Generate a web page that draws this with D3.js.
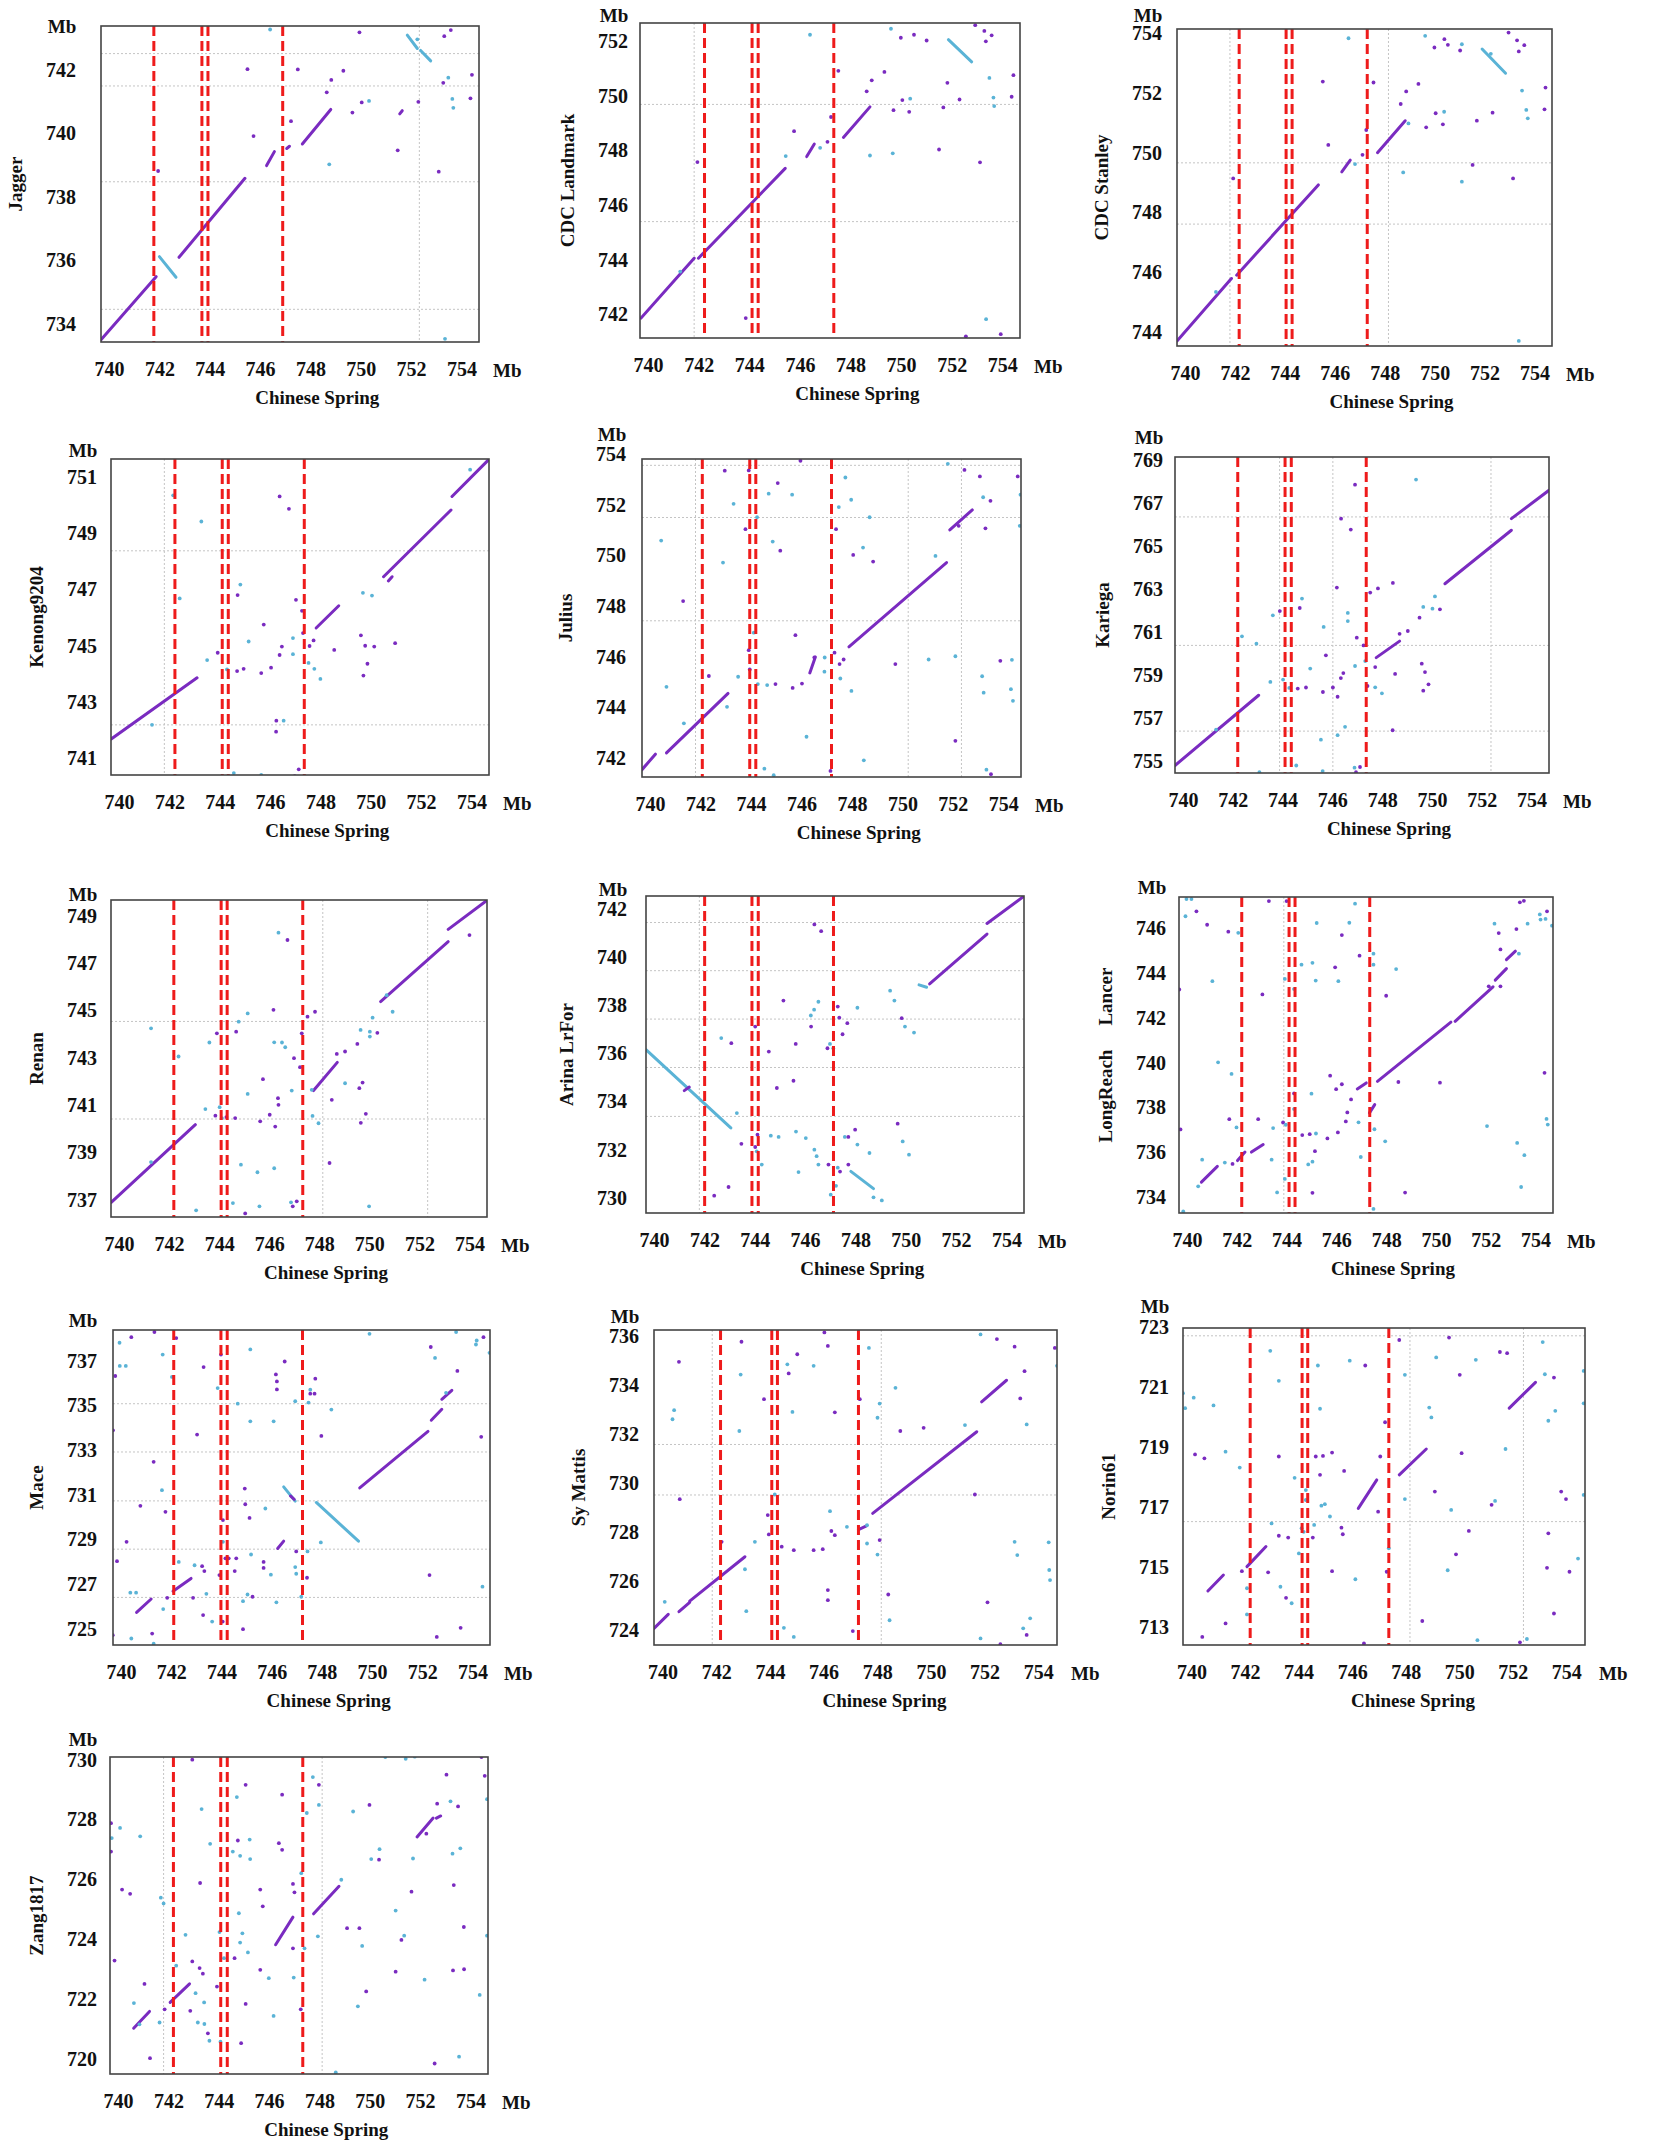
<!DOCTYPE html>
<html>
<head>
<meta charset="utf-8">
<script src="https://cdn.jsdelivr.net/npm/d3@7"></script>
<style>
  body { margin: 0; background: #fff; }
  svg text { font-family: "Liberation Serif", "Times New Roman", serif; font-weight: bold; fill: #111; }
</style>
</head>
<body>
<div id="chart"></div>
<script>
// ---------------------
// DATA

var xDomain = [739.68, 754.70];
var xTicks = [740, 742, 744, 746, 748, 750, 752, 754];

var panelNames = ["Jagger", "CDC Landmark", "CDC Stanley", "Kenong9204", "Julius", "Kariega",
  "Renan", "Arina LrFor", "LongReach|Lancer", "Mace", "Sy Mattis", "Norin61", "Zang1817"];

var yDomains = [
  [733.43, 743.39], [741.14, 752.67], [743.53, 754.14], [740.41, 751.63], [741.25, 753.81],
  [754.43, 769.14], [736.27, 749.66], [729.37, 742.53], [733.29, 747.40], [724.28, 738.38],
  [723.39, 736.24], [712.42, 722.98], [719.50, 730.09]
];

var yTicks = [
  [734, 736, 738, 740, 742],
  [742, 744, 746, 748, 750, 752],
  [744, 746, 748, 750, 752, 754],
  [741, 743, 745, 747, 749, 751],
  [742, 744, 746, 748, 750, 752, 754],
  [755, 757, 759, 761, 763, 765, 767, 769],
  [737, 739, 741, 743, 745, 747, 749],
  [730, 732, 734, 736, 738, 740, 742],
  [734, 736, 738, 740, 742, 744, 746],
  [725, 727, 729, 731, 733, 735, 737],
  [724, 726, 728, 730, 732, 734, 736],
  [713, 715, 717, 719, 721, 723],
  [720, 722, 724, 726, 728, 730]
];

// red dashed boundaries (Chinese Spring Mb)
var cutLines = [
  [741.78, 743.69, 743.93, 746.90], [742.23, 744.11, 744.35, 747.34], [742.17, 744.05, 744.29, 747.30],
  [742.22, 744.10, 744.34, 747.36], [742.07, 743.95, 744.19, 747.19], [742.20, 744.10, 744.35, 747.36],
  [742.19, 744.08, 744.32, 747.34], [742.01, 743.89, 744.14, 747.13], [742.20, 744.10, 744.34, 747.34],
  [742.10, 743.98, 744.23, 747.23], [742.16, 744.07, 744.28, 747.30], [742.19, 744.13, 744.34, 747.37],
  [742.20, 744.08, 744.34, 747.34]
];

// grey scaffold boundaries
var gridX = [
  [752.33], [741.82], [748.15, 741.80], [741.80], [741.80, 750.23, 752.34], [743.88, 746.02, 752.37],
  [748.14, 752.33], [741.80], [743.89], [], [748.15, 741.85], [748.16, 752.40], [741.81, 748.11]
];
var gridY = [
  [741.50, 738.48, 734.46, 742.52], [749.69, 745.40], [749.66, 747.61], [748.37, 742.19],
  [753.56, 751.50, 747.42], [766.35, 760.37, 756.38], [744.53, 740.41],
  [741.43, 739.43, 737.42, 735.41, 733.38], [], [735.08, 732.92, 730.73, 728.57, 726.41],
  [731.57, 729.51], [722.72, 716.53], []
];

// collinear blocks: [cs1, y1, cs2, y2, strand]  strand 0 = forward, 1 = reverse
var segJagger = [[739.68,733.50,741.87,735.49,0],[742.00,736.12,742.66,735.47,1],[742.78,736.10,745.40,738.59,0],
  [746.26,738.99,746.57,739.43,0],[747.06,739.53,747.17,739.60,0],[747.68,739.67,748.81,740.76,0],
  [751.85,743.10,752.25,742.68,1],[752.38,742.62,752.78,742.29,1],[751.55,740.62,751.65,740.72,0]];
var dotJagger = [[745.50,742.03,0],[747.50,742.02,0],[749.31,741.98,0],[749.95,743.19,0],[746.40,743.28,1],
  [748.83,741.69,0],[748.65,741.30,0],[749.67,740.66,0],[750.04,740.98,0],[750.33,741.03,1],[747.23,740.39,0],
  [745.74,739.92,0],[748.75,739.03,1],[751.47,739.47,0],[752.29,741.00,0],[753.10,738.80,0],[753.28,741.60,0],
  [753.48,741.76,1],[753.64,741.09,1],[753.68,740.81,1],[754.36,741.11,0],[754.42,741.85,0],[753.32,743.07,0],
  [753.58,743.26,0],[753.35,733.53,1],[741.95,738.82,0],[752.25,742.97,1]];

var segLandmark = [[739.72,741.87,741.82,744.06,0],[741.99,744.06,745.42,747.35,0],[746.27,747.78,746.57,748.24,0],
  [747.72,748.48,748.77,749.60,0],[751.87,752.06,752.79,751.25,1]];
var dotLandmark = [[741.95,747.58,0],[743.86,741.87,0],[745.44,747.80,1],[745.77,748.71,0],[746.40,752.24,1],
  [746.80,748.10,1],[747.09,748.32,0],[747.23,749.23,0],[747.52,750.92,0],[749.34,750.88,0],[749.60,752.46,1],
  [749.99,752.13,0],[750.51,752.24,0],[751.01,752.03,0],[748.84,750.57,0],[748.64,750.17,0],[750.05,749.85,0],
  [750.36,749.90,1],[749.70,749.48,0],[750.32,749.42,0],[749.67,747.90,1],[748.77,747.82,1],[751.50,748.04,0],
  [751.83,750.48,0],[751.67,749.58,0],[752.31,749.87,0],[753.12,747.57,0],[752.93,752.59,0],[753.29,752.38,0],
  [753.35,752.00,0],[753.58,752.22,0],[753.49,750.66,1],[753.65,749.94,1],[753.68,749.63,1],[754.37,749.97,0],
  [754.44,750.76,0],[753.36,741.83,1],[752.56,741.20,0],[753.94,741.28,0],[741.27,743.57,1]];

var segStanley = [[739.68,743.70,741.86,745.79,0],[742.07,745.90,745.34,748.92,0],[746.28,749.36,746.62,749.75,0],
  [747.71,750.00,748.82,751.07,0],[751.90,753.47,752.84,752.66,1]];
var dotStanley = [[741.93,749.14,0],[745.52,752.38,0],[745.74,750.26,0],[746.55,753.83,1],[746.81,749.62,1],
  [747.26,750.76,0],[747.55,752.35,0],[748.64,751.63,0],[748.86,752.05,0],[749.35,752.30,0],[749.62,753.91,1],
  [749.99,753.52,0],[750.39,753.80,0],[750.53,753.61,0],[751.02,753.42,0],[751.09,753.63,1],[750.04,751.32,0],
  [750.38,751.37,1],[750.33,750.95,0],[749.66,750.85,0],[748.95,750.98,1],[748.74,749.34,1],[751.09,749.03,1],
  [751.52,749.59,0],[751.69,751.07,0],[752.32,751.34,0],[752.25,753.31,1],[752.96,754.02,0],[753.30,753.76,0],
  [753.37,753.39,0],[753.59,753.60,0],[753.50,752.08,1],[753.67,751.43,1],[753.73,751.15,1],[754.44,752.18,0],
  [754.40,751.45,0],[753.14,749.14,0],[753.37,743.70,1],[741.24,745.34,1],[747.11,749.93,0]];

var segKenong = [[739.69,741.69,743.10,743.86,0],[747.83,745.63,748.73,746.42,0],[750.51,747.45,753.19,749.82,0],
  [753.23,750.30,754.71,751.63,0],[750.70,747.30,750.85,747.45,0]];
var dotKenong = [[742.15,750.34,1],[742.41,746.68,1],[743.27,749.41,1],[743.50,744.49,1],[743.92,744.75,0],
  [744.29,744.16,1],[744.69,744.10,0],[744.95,744.18,0],[744.71,746.80,0],[744.82,747.17,1],[745.15,745.15,1],
  [745.75,745.75,0],[745.65,744.03,0],[746.04,744.22,0],[746.38,750.30,0],[746.47,744.97,0],[746.38,744.67,0],
  [746.75,749.86,0],[746.91,745.27,1],[746.91,744.70,1],[747.03,746.63,0],[747.27,746.24,0],[747.31,745.45,0],
  [747.53,744.39,1],[747.57,744.99,0],[747.73,745.19,0],[747.76,744.18,1],[748.00,743.82,1],[748.55,744.85,0],
  [746.25,742.34,0],[746.24,741.95,0],[746.54,742.34,1],[744.56,740.48,1],[745.65,740.41,1],[747.14,740.61,0],
  [746.98,740.37,0],[749.69,746.88,1],[750.05,746.78,1],[749.61,745.37,0],[749.78,745.00,0],[750.14,744.97,0],
  [749.87,744.36,0],[749.71,743.94,0],[750.97,745.09,0],[753.95,751.25,1],[741.31,742.19,1]];

var segJulius = [[739.68,741.54,740.21,742.15,0],[740.65,742.20,743.09,744.55,0],[747.88,746.39,751.75,749.72,0],
  [751.88,751.01,752.77,751.80,0],[746.33,745.36,746.55,745.99,0]];
var dotJulius = [[740.44,750.59,1],[740.65,744.81,1],[741.31,748.20,0],[742.89,749.72,1],[742.96,753.35,0],
  [743.31,752.04,1],[743.05,744.02,1],[742.33,745.24,0],[743.49,745.21,1],[743.78,751.04,0],[743.91,746.26,0],
  [743.95,745.50,0],[744.11,746.95,1],[744.24,751.51,1],[743.91,753.36,0],[744.27,744.92,1],[744.64,744.88,1],
  [744.97,744.92,0],[744.70,752.44,1],[744.86,750.55,1],[745.06,752.86,0],[745.16,750.19,0],[745.63,752.40,1],
  [745.65,744.77,0],[745.76,746.85,0],[746.02,744.94,0],[746.20,742.84,1],[745.96,753.74,0],[746.51,745.97,0],
  [746.92,745.97,1],[746.91,745.41,1],[747.31,746.16,0],[747.37,751.04,0],[747.51,745.71,0],[747.54,745.14,1],
  [747.67,745.89,0],[747.48,751.91,1],[747.74,753.08,1],[747.97,752.20,1],[748.05,750.02,0],[747.98,744.65,1],
  [748.44,750.31,1],[748.47,741.91,1],[748.70,751.51,1],[748.84,749.76,0],[749.72,745.71,0],[751.04,745.89,1],
  [751.31,749.98,1],[751.80,753.62,1],[752.10,746.02,1],[752.10,742.68,0],[752.23,751.17,0],[752.46,753.38,0],
  [753.07,753.12,0],[753.16,745.23,1],[753.20,752.30,1],[753.29,751.07,0],[753.49,752.16,0],[753.22,744.58,1],
  [753.33,741.54,1],[753.51,741.36,0],[753.88,745.84,0],[754.30,744.72,1],[754.34,745.88,1],[754.38,744.26,1],
  [754.57,753.12,0],[754.65,751.17,1],[754.68,752.40,1],[744.53,741.58,1],[744.90,741.32,1],[747.15,741.49,0],
  [741.34,743.37,1]];

var segKariega = [[739.68,754.78,743.04,758.05,0],[747.76,759.80,748.70,760.57,0],[750.52,763.24,753.19,765.73,0],
  [753.19,766.27,754.70,767.59,0]];
var dotKariega = [[742.37,760.79,1],[742.95,760.45,1],[743.51,758.67,1],[743.61,761.77,1],[743.89,761.97,0],
  [744.02,758.78,1],[744.27,758.39,1],[744.61,758.36,0],[744.94,758.41,0],[744.69,762.11,0],[744.78,762.55,1],
  [744.55,754.78,1],[743.07,754.47,1],[745.11,759.29,1],[745.65,761.23,1],[745.74,759.91,0],[745.62,758.20,0],
  [745.54,755.98,1],[745.61,754.52,1],[746.02,758.41,0],[746.18,763.06,0],[746.21,757.98,0],[746.21,756.19,1],
  [746.34,758.85,0],[746.35,766.27,0],[746.44,759.08,0],[746.51,756.58,1],[746.62,761.88,1],[746.62,761.50,1],
  [746.74,765.76,0],[746.91,767.85,0],[746.91,759.41,1],[746.98,760.73,0],[746.95,754.47,0],[746.89,754.68,1],
  [747.11,754.71,0],[747.25,760.37,0],[747.32,759.64,1],[747.41,758.48,0],[747.52,762.83,0],[747.72,759.36,0],
  [747.72,758.42,1],[747.83,763.02,0],[747.99,758.14,1],[748.43,763.28,0],[748.42,756.42,0],[748.52,759.04,0],
  [748.70,760.91,0],[749.03,761.04,0],[749.36,768.09,1],[749.50,761.66,0],[749.59,759.52,0],[749.65,762.16,1],
  [749.65,758.26,0],[749.72,759.13,0],[749.86,758.56,0],[750.02,762.08,1],[750.12,762.65,1],[750.32,762.05,0],
  [741.33,756.45,1]];

var segRenan = [[739.69,736.89,743.05,740.17,0],[747.77,741.61,748.72,742.80,0],[750.45,745.37,753.15,747.90,0],
  [753.15,748.42,754.68,749.63,0]];
var dotRenan = [[741.28,744.24,1],[742.38,743.05,1],[743.08,736.55,1],[743.45,740.83,1],[743.61,743.64,1],
  [743.85,740.55,0],[743.91,744.03,0],[744.02,740.91,1],[744.11,740.45,1],[744.29,740.49,0],[744.55,736.86,1],
  [744.64,740.45,0],[744.68,744.10,0],[744.78,744.52,1],[744.87,738.48,1],[745.04,736.42,0],[745.14,744.87,1],
  [745.14,741.47,1],[745.53,738.16,1],[745.61,736.72,1],[745.64,740.31,0],[745.75,742.09,0],[746.02,740.59,0],
  [746.17,745.02,0],[746.20,743.65,1],[746.20,738.33,1],[746.24,740.09,0],[746.37,741.01,0],[746.35,741.29,0],
  [746.37,748.28,1],[746.51,743.64,1],[746.64,743.44,1],[746.73,747.97,0],[746.90,741.61,1],[746.94,736.72,0],
  [746.99,742.98,0],[747.10,736.93,0],[746.87,736.89,1],[747.23,742.60,0],[747.30,744.03,0],[747.53,744.73,0],
  [747.83,744.94,0],[747.70,741.64,1],[747.73,740.54,1],[747.97,740.23,1],[748.41,738.55,0],[748.50,741.22,0],
  [748.70,743.16,0],[749.03,743.26,0],[749.03,741.92,1],[749.52,743.58,0],[749.60,741.71,0],[749.73,741.95,0],
  [749.65,744.17,1],[750.02,744.10,1],[750.02,743.89,1],[750.13,744.69,1],[749.66,740.25,0],[749.86,740.63,0],
  [750.32,744.05,0],[749.99,736.72,1],[750.93,744.94,1],[750.69,745.64,1],[754.00,748.18,0],[741.28,738.59,1]];

var segArina = [[739.69,736.14,743.05,732.90,1],[747.82,731.10,748.72,730.38,1],[750.53,738.84,750.83,738.74,1],
  [750.95,738.88,753.23,740.95,0],[753.23,741.39,754.71,742.53,0],[741.20,734.45,741.40,734.60,0]];
var dotArina = [[742.39,730.09,0],[742.67,736.63,1],[742.96,730.45,0],[743.07,736.42,0],[743.29,733.52,1],
  [743.47,732.24,0],[744.02,732.11,0],[744.02,737.11,0],[744.11,732.62,0],[744.08,731.93,1],[744.28,731.38,1],
  [744.56,736.07,0],[744.64,732.58,1],[744.88,734.56,0],[744.95,732.53,1],[745.14,738.19,0],[745.54,734.86,0],
  [745.63,736.39,0],[745.64,732.75,1],[745.74,731.07,1],[746.03,732.48,1],[746.23,737.57,1],[746.24,737.11,0],
  [746.36,737.81,1],[746.37,732.00,1],[746.46,731.73,1],[746.53,738.14,1],[746.53,731.38,1],[746.93,731.38,0],
  [746.89,736.21,0],[746.99,736.39,1],[747.02,730.13,1],[747.12,736.21,1],[747.23,730.50,1],[747.30,737.94,0],
  [747.30,731.25,1],[747.36,737.48,0],[747.39,731.09,0],[747.49,736.79,0],[747.58,732.53,1],[747.68,737.25,0],
  [747.72,731.38,0],[747.72,732.53,0],[747.99,732.83,0],[748.08,737.89,1],[748.08,732.21,1],[748.56,731.86,1],
  [748.72,730.02,1],[749.05,729.89,1],[746.37,741.35,0],[746.64,741.07,0],[749.38,738.60,1],[749.55,738.19,1],
  [749.68,733.08,0],[749.84,737.46,0],[749.88,732.34,1],[749.97,737.11,1],[750.13,731.79,1],[750.33,736.86,1]];

var segLongReach = [[740.58,734.67,741.22,735.37,0],[742.03,735.63,742.33,736.01,0],[742.59,736.01,743.06,736.35,0],
  [746.84,738.83,747.20,739.10,0],[747.65,739.17,750.60,741.81,0],[750.77,741.85,752.29,743.39,0],
  [752.38,743.69,752.83,744.20,0],[752.83,744.60,753.19,744.98,0],[747.33,737.76,747.54,738.13,0]];
var dotLongReach = [[739.69,743.27,0],[739.74,737.02,0],[739.94,746.54,1],[739.98,747.31,1],[740.18,747.31,1],
  [740.38,746.76,0],[740.81,746.16,0],[740.61,735.67,1],[740.45,734.48,1],[739.85,733.36,1],[741.02,743.64,1],
  [741.25,740.02,1],[741.52,735.54,1],[741.66,745.85,0],[741.79,739.50,1],[741.70,737.48,0],[741.83,735.48,0],
  [741.99,737.11,1],[742.06,745.80,1],[742.86,737.48,0],[743.03,743.05,0],[743.29,747.22,0],[743.40,735.67,1],
  [743.46,737.08,1],[743.62,734.21,1],[743.86,737.33,0],[743.93,743.74,1],[743.97,737.23,1],[743.93,734.81,1],
  [744.00,747.22,0],[744.30,738.63,0],[744.30,743.29,1],[744.30,737.93,1],[744.60,744.38,1],[744.63,736.77,0],
  [744.87,735.46,1],[744.93,736.81,0],[745.04,734.19,0],[745.04,735.58,1],[745.04,744.46,1],[745.00,738.62,1],
  [745.14,736.05,0],[745.18,736.84,1],[745.21,746.24,1],[745.17,743.67,1],[745.64,736.62,0],[745.75,739.42,0],
  [745.95,744.26,0],[745.99,738.82,0],[746.08,743.64,1],[746.06,736.89,0],[746.22,745.70,0],[746.22,739.04,0],
  [746.38,737.38,0],[746.44,737.78,0],[746.52,746.25,1],[746.59,738.36,0],[746.75,747.10,1],[746.93,744.78,0],
  [746.89,737.34,1],[746.98,735.79,1],[747.49,744.87,1],[747.49,744.38,1],[747.53,737.03,1],[747.96,736.49,1],
  [748.00,742.99,0],[748.40,744.18,1],[748.49,739.14,0],[748.76,734.20,0],[750.16,739.11,0],[752.05,737.17,1],
  [752.12,743.41,0],[752.35,746.21,1],[752.52,745.79,0],[752.59,745.06,0],[752.59,743.41,0],[753.23,745.97,0],
  [753.26,736.42,1],[753.33,744.87,1],[753.37,747.16,0],[753.53,747.23,0],[753.42,734.45,1],[753.55,735.87,1],
  [753.68,746.21,1],[754.17,746.62,1],[754.20,746.39,1],[754.40,746.42,1],[754.46,746.76,0],[754.66,746.12,1],
  [754.36,739.55,0],[754.44,737.49,1],[754.49,737.24,1],[747.49,733.47,1]];

var segMace = [[740.62,725.74,741.20,726.34,0],[742.07,726.69,742.79,727.26,0],[746.24,728.60,746.48,728.93,0],
  [746.48,731.36,746.94,730.72,1],[747.78,730.66,749.46,728.93,1],[749.51,731.31,752.23,733.84,0],
  [752.36,734.34,752.78,734.83,0],[752.78,735.28,753.18,735.68,0],[746.75,730.95,746.90,730.80,0]];
var dotMace = [[739.68,733.89,0],[739.77,736.32,0],[739.84,728.03,0],[739.67,724.72,0],[739.94,737.81,1],
  [739.95,736.77,1],[740.19,736.77,1],[740.22,728.90,0],[740.41,738.06,0],[740.37,726.62,1],[740.60,726.62,1],
  [740.41,724.57,1],[740.77,730.51,0],[741.24,724.79,0],[741.30,724.34,1],[741.30,732.48,0],[741.33,738.29,0],
  [741.66,737.28,1],[741.63,731.21,1],[741.68,725.89,1],[741.77,730.24,0],[741.84,726.39,0],[742.03,736.28,1],
  [742.20,738.02,0],[742.30,728.00,1],[742.87,726.39,0],[742.93,727.85,1],[743.03,733.70,0],[743.23,727.81,0],
  [743.29,736.72,0],[743.32,727.59,0],[743.27,725.62,0],[743.40,726.57,1],[743.63,725.33,1],[743.85,735.78,1],
  [743.92,727.41,0],[743.98,737.28,0],[744.06,729.87,0],[744.06,728.90,1],[744.05,725.33,0],[744.16,728.16,0],
  [744.29,728.16,0],[744.59,728.16,0],[744.53,727.59,0],[744.65,735.08,1],[744.86,726.24,1],[744.86,724.99,0],
  [744.93,731.28,0],[744.95,730.58,0],[745.04,726.54,1],[745.15,734.29,1],[745.12,729.97,0],[745.15,737.51,1],
  [745.18,728.33,1],[745.24,726.44,0],[745.68,728.00,0],[745.68,727.73,0],[745.75,730.39,1],[745.97,727.43,1],
  [746.08,734.29,1],[746.17,736.39,0],[746.21,736.08,0],[746.21,735.72,0],[746.19,726.19,1],[746.52,736.97,0],
  [746.94,735.19,1],[746.94,727.77,1],[746.98,727.47,1],[746.98,728.47,0],[747.18,726.44,1],[747.41,727.29,0],
  [747.43,728.47,1],[747.47,735.13,1],[747.54,735.71,1],[747.54,735.53,0],[747.71,735.53,0],[747.74,736.20,0],
  [747.96,728.87,1],[747.98,733.64,0],[748.38,734.82,1],[749.90,738.21,1],[752.29,727.41,0],[752.34,737.62,0],
  [752.51,737.13,1],[752.58,724.64,0],[752.95,735.57,1],[753.35,738.29,1],[753.53,725.05,0],[754.14,737.73,1],
  [754.17,737.91,1],[754.44,738.06,0],[754.35,733.60,0],[754.40,726.89,1],[754.68,737.36,1],[753.40,736.55,0]];

var segSyMattis = [[739.68,724.07,740.21,724.64,0],[740.61,724.75,741.01,725.13,0],[741.01,725.18,743.07,726.99,0],
  [747.83,728.76,751.71,732.09,0],[751.89,733.31,752.82,734.19,0],[747.30,728.10,747.60,728.25,0]];
var dotSyMattis = [[740.08,725.15,1],[740.43,732.97,1],[740.37,732.60,1],[740.61,734.94,0],[740.64,729.34,0],
  [742.20,727.60,0],[742.91,734.42,1],[742.94,735.76,0],[742.86,732.12,1],[743.07,726.48,1],[743.12,724.77,1],
  [743.44,727.60,1],[743.78,733.42,0],[743.92,728.69,0],[743.96,727.90,0],[744.18,729.53,1],[744.44,727.40,0],
  [744.52,724.09,1],[744.65,734.84,1],[744.70,734.47,0],[744.84,732.90,1],[744.89,727.26,0],[744.89,723.72,1],
  [745.02,735.25,0],[745.63,734.78,1],[745.63,727.26,0],[745.97,727.30,0],[746.03,736.14,0],[746.16,735.59,0],
  [746.16,725.63,0],[746.16,725.22,0],[746.24,728.85,1],[746.29,728.04,0],[746.42,732.88,0],[746.42,727.87,0],
  [746.87,728.21,1],[747.09,723.96,0],[747.35,733.42,0],[747.62,728.28,1],[747.62,727.53,1],[747.69,735.51,1],
  [748.01,732.66,1],[748.09,733.24,1],[748.09,727.67,0],[748.01,727.08,1],[748.41,725.45,0],[748.46,724.40,1],
  [748.68,733.88,1],[748.86,732.12,0],[749.73,732.25,0],[751.27,732.36,1],[751.64,729.53,0],[751.85,736.06,1],
  [751.85,723.66,1],[752.11,725.13,0],[752.46,735.87,0],[752.59,723.42,0],[753.12,735.56,0],[753.12,727.60,1],
  [753.22,727.06,1],[753.33,733.45,0],[753.49,734.56,0],[753.57,732.39,1],[753.44,724.07,1],[753.57,723.80,0],
  [753.70,724.48,1],[754.39,727.58,1],[754.41,726.45,1],[754.44,726.04,1],[754.62,735.51,0],[754.70,734.78,1]];

var segNorin = [[740.61,714.22,741.19,714.75,0],[742.07,715.03,742.78,715.70,0],[746.23,716.97,746.92,717.92,0],
  [747.76,718.09,748.77,718.95,0],[751.87,720.31,752.85,721.17,0]];
var dotNorin = [[739.68,720.81,1],[739.76,720.31,1],[740.08,720.66,1],[740.13,718.77,0],[740.48,718.64,0],
  [740.40,712.69,0],[740.82,720.40,1],[741.27,718.86,1],[741.27,713.14,0],[741.80,718.33,1],[741.88,714.88,0],
  [742.07,714.31,1],[742.07,713.44,1],[742.86,714.84,0],[742.94,722.22,1],[742.99,716.47,1],[743.26,718.70,0],
  [743.26,716.06,0],[743.26,721.22,1],[743.32,714.36,1],[743.53,713.99,0],[743.61,716.00,0],[743.74,713.81,1],
  [743.85,717.99,1],[744.01,715.47,1],[744.11,716.31,1],[744.19,716.19,1],[744.27,717.58,1],[744.27,717.25,1],
  [744.53,716.00,0],[744.58,716.42,1],[744.64,718.70,0],[744.72,721.73,1],[744.80,720.29,1],[744.80,718.09,0],
  [744.85,717.06,1],[744.91,718.72,0],[744.98,717.11,1],[745.17,716.70,1],[745.25,718.83,0],[745.25,714.88,0],
  [745.60,716.33,0],[745.65,716.11,0],[745.70,718.22,0],[745.91,721.89,1],[746.12,714.61,1],[746.44,712.47,0],
  [746.49,721.73,0],[746.97,716.86,0],[747.05,718.70,0],[747.23,719.84,0],[747.37,715.64,1],[747.29,714.86,0],
  [747.76,722.58,0],[747.97,721.42,1],[747.97,717.28,1],[748.62,713.22,0],[748.88,720.33,1],[748.96,720.00,1],
  [749.09,717.53,0],[749.14,722.00,1],[749.57,714.91,1],[749.62,722.66,0],[749.70,716.92,1],[749.88,715.44,0],
  [750.02,721.42,0],[750.09,718.81,0],[750.36,716.22,0],[750.62,721.92,1],[750.68,712.58,1],[751.21,717.09,0],
  [751.34,717.22,1],[751.52,722.18,0],[751.73,718.95,1],[751.79,722.14,0],[752.27,712.51,0],[752.53,712.62,1],
  [753.12,722.51,1],[753.20,721.44,1],[753.33,716.14,0],[753.28,714.99,0],[753.33,719.89,1],[753.54,713.47,0],
  [753.59,720.22,1],[753.54,721.33,0],[753.81,717.53,0],[753.99,717.28,0],[754.12,714.86,0],[754.44,715.30,1],
  [754.65,721.55,1],[754.65,720.47,1],[754.65,717.42,1]];

var segZang = [[740.62,721.03,741.25,721.59,0],[742.07,721.89,742.84,722.51,0],[746.26,723.82,746.95,724.74,0],
  [747.77,724.85,748.78,725.77,0],[751.88,727.42,752.52,728.05,0],[752.65,728.05,752.82,728.12,0]];
var dotZang = [[739.72,727.88,0],[739.75,727.38,1],[739.72,726.93,0],[739.86,723.29,0],[740.08,727.72,1],
  [740.16,725.66,0],[740.48,725.52,0],[740.63,721.87,1],[740.85,721.16,1],[740.88,727.44,1],[741.05,722.51,0],
  [741.27,720.03,0],[741.65,721.22,1],[741.70,725.39,1],[741.81,725.20,1],[741.85,721.66,0],[742.31,723.12,1],
  [742.68,724.15,1],[742.87,721.61,0],[742.95,723.26,0],[742.95,730.00,0],[743.08,722.20,1],[743.17,721.22,1],
  [743.24,723.04,0],[743.26,725.88,0],[743.32,728.35,1],[743.37,722.85,0],[743.42,721.89,1],[743.43,721.17,1],
  [743.57,720.86,0],[743.63,720.61,1],[743.66,727.19,1],[743.93,722.42,0],[744.03,724.24,1],[744.07,720.58,1],
  [744.21,723.37,1],[744.56,726.93,1],[744.63,723.37,0],[744.72,728.75,1],[744.76,727.30,0],[744.80,724.87,1],
  [744.85,726.79,1],[744.85,723.89,1],[744.89,720.53,0],[744.94,724.20,1],[745.07,729.16,0],[745.07,721.84,0],
  [745.16,723.56,1],[745.23,727.33,1],[745.25,726.68,1],[745.65,725.66,0],[745.75,725.10,0],[745.65,722.98,0],
  [745.99,722.70,1],[746.18,721.44,1],[746.39,727.21,0],[746.52,726.99,0],[746.52,728.83,0],[746.95,725.85,0],
  [747.01,725.57,0],[746.95,723.70,0],[746.98,722.72,1],[747.28,726.21,1],[747.26,721.66,0],[747.41,723.70,1],
  [747.50,728.22,1],[747.74,729.42,1],[747.94,724.10,1],[747.98,729.16,0],[747.98,728.49,1],[748.65,719.55,1],
  [748.87,725.99,1],[749.10,724.37,0],[749.34,728.27,1],[749.53,721.76,1],[749.59,724.37,0],[749.70,723.78,1],
  [749.86,722.26,0],[749.99,728.49,0],[750.06,726.68,1],[750.37,726.66,0],[750.39,727.01,1],[750.62,730.09,1],
  [751.03,722.92,0],[751.03,724.96,1],[751.26,723.98,0],[751.37,724.12,1],[751.43,730.03,1],[751.66,725.59,0],
  [751.72,726.70,1],[751.79,730.10,1],[752.18,722.65,1],[752.25,727.53,0],[752.52,730.20,1],[752.58,719.85,0],
  [752.68,728.53,0],[753.05,729.50,0],[753.21,728.61,1],[753.29,726.86,1],[753.31,722.96,0],[753.34,725.81,0],
  [753.51,728.44,0],[753.55,720.08,1],[753.60,727.04,1],[753.74,724.41,0],[753.75,723.00,0],[754.37,722.14,1],
  [754.44,730.09,0],[754.57,729.46,0],[754.66,728.68,1],[754.66,724.12,1]];

var segs = [segJagger, segLandmark, segStanley, segKenong, segJulius, segKariega, segRenan, segArina,
  segLongReach, segMace, segSyMattis, segNorin, segZang];
var dots = [dotJagger, dotLandmark, dotStanley, dotKenong, dotJulius, dotKariega, dotRenan, dotArina,
  dotLongReach, dotMace, dotSyMattis, dotNorin, dotZang];

// ---------------------
// LAYOUT: frame left, top, width, height, y tick padding, "Mb" label offset

var layout = [
  [101, 26, 378, 316, 25, 1], [640, 23, 380, 315, 12, -7], [1177, 29, 375, 317, 15, -13],
  [111, 459, 378, 316, 14, -8], [642, 459, 379, 318, 16, -24], [1175, 457, 374, 316, 12, -19],
  [111, 900, 376, 317, 14, -5], [646, 896, 378, 317, 19, -6], [1179, 897, 374, 316, 13, -9],
  [113, 1330, 377, 315, 16, -9], [654, 1330, 403, 315, 15, -13], [1183, 1328, 402, 317, 14, -21],
  [110, 1757, 378, 317, 13, -17]
];

var colors = ["#7a2bc0", "#5ab3d6"];

var svg = d3.select("#chart")
  .append("svg")
    .attr("width", 1654)
    .attr("height", 2147);

panelNames.forEach(function(name, i) {
  var L = layout[i], w = L[2], h = L[3], pad = L[4];

  var x = d3.scaleLinear().domain(xDomain).range([0, w]);
  var y = d3.scaleLinear().domain(yDomains[i]).range([h, 0]);

  var g = svg.append("g")
    .attr("transform", "translate(" + L[0] + "," + L[1] + ")");

  g.append("clipPath").attr("id", "clip" + i)
    .append("rect").attr("width", w).attr("height", h);
  var plot = g.append("g").attr("clip-path", "url(#clip" + i + ")");

  // grey scaffold lines
  plot.selectAll(".gx").data(gridX[i]).enter().append("line")
    .attr("x1", function(d) { return x(d); })
    .attr("x2", function(d) { return x(d); })
    .attr("y1", 0).attr("y2", h)
    .style("stroke", "#c4c4c4").style("stroke-width", 1).style("stroke-dasharray", "2 2");
  plot.selectAll(".gy").data(gridY[i]).enter().append("line")
    .attr("y1", function(d) { return y(d); })
    .attr("y2", function(d) { return y(d); })
    .attr("x1", 0).attr("x2", w)
    .style("stroke", "#c4c4c4").style("stroke-width", 1).style("stroke-dasharray", "2 2");

  // collinear blocks
  plot.selectAll(".seg").data(segs[i]).enter().append("line")
    .attr("x1", function(d) { return x(d[0]); })
    .attr("y1", function(d) { return y(d[1]); })
    .attr("x2", function(d) { return x(d[2]); })
    .attr("y2", function(d) { return y(d[3]); })
    .style("stroke", function(d) { return colors[d[4]]; })
    .style("stroke-width", 3)
    .style("stroke-linecap", "round");

  // scattered hits
  plot.selectAll(".dot").data(dots[i]).enter().append("circle")
    .attr("cx", function(d) { return x(d[0]); })
    .attr("cy", function(d) { return y(d[1]); })
    .attr("r", 1.9)
    .style("fill", function(d) { return colors[d[2]]; });

  // red boundaries
  plot.selectAll(".cut").data(cutLines[i]).enter().append("line")
    .attr("x1", function(d) { return x(d); })
    .attr("x2", function(d) { return x(d); })
    .attr("y1", 0).attr("y2", h)
    .style("stroke", "#ee1b1b").style("stroke-width", 3).style("stroke-dasharray", "10 5");

  // frame
  g.append("rect")
    .attr("width", w).attr("height", h)
    .style("fill", "none").style("stroke", "#444").style("stroke-width", 1.6);

  // axes
  var xa = g.append("g")
    .attr("transform", "translate(0," + (h + 20) + ")")
    .call(d3.axisBottom(x).tickValues(xTicks).tickSize(0).tickPadding(0));
  xa.select(".domain").remove();
  xa.selectAll("text").style("font-size", "20px").attr("fill", "#111");

  var ya = g.append("g")
    .call(d3.axisLeft(y).tickValues(yTicks[i]).tickSize(0).tickPadding(pad));
  ya.select(".domain").remove();
  ya.selectAll("text").style("font-size", "20px").attr("fill", "#111");

  // labels
  g.append("text")
    .attr("x", -(pad + 14)).attr("y", L[5] + 6)
    .attr("text-anchor", "middle").style("font-size", "19px")
    .text("Mb");
  g.append("text")
    .attr("x", w + 14).attr("y", h + 35)
    .style("font-size", "19px")
    .text("Mb");
  g.append("text")
    .attr("x", w * 0.572).attr("y", h + 62)
    .attr("text-anchor", "middle").style("font-size", "19px")
    .text("Chinese Spring");

  var parts = name.split("|");
  var t = g.append("text")
    .attr("transform", "translate(" + (-(pad + 61)) + "," + (h / 2) + ") rotate(-90)")
    .attr("text-anchor", "middle").attr("dy", "0.35em")
    .style("font-size", "19px")
    .text(parts[0]);
  if (parts.length > 1) {
    t.append("tspan").attr("dx", 24).text(parts[1]);
  }
});
</script>
</body>
</html>
